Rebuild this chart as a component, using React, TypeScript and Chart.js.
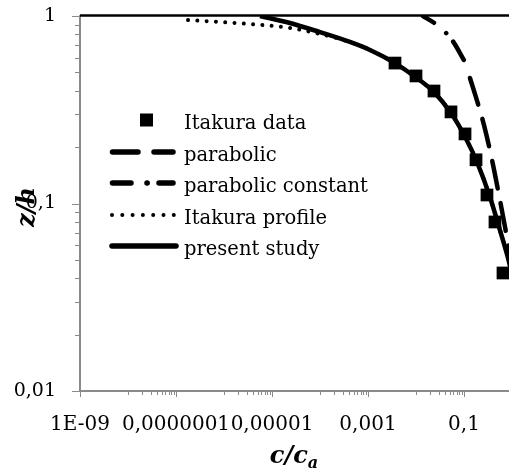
import React, { useEffect, useRef } from "react";
import { Chart, registerables } from "chart.js";

Chart.register(...registerables);

// ---------- data ----------
const itakuraDataX = [0.00365, 0.01, 0.0237, 0.0536, 0.105, 0.178, 0.301, 0.442, 0.649];
const itakuraDataY = [0.561, 0.479, 0.398, 0.308, 0.235, 0.171, 0.111, 0.0797, 0.0426];

const parabolicX = [0.133, 0.169, 0.261, 0.383, 0.562, 0.715, 0.909, 1.0];
const parabolicY = [0.467, 0.384, 0.262, 0.171, 0.104, 0.075, 0.053, 0.044];

const parabolicConstX = [0.014, 0.0274, 0.0562, 0.105];
const parabolicConstY = [1.0, 0.895, 0.745, 0.568];

const itakuraProfileX = [1.78e-7, 8.25e-7, 3.48e-6, 2.37e-5, 1e-4, 4.2e-4, 0.0011, 0.00365, 0.01, 0.0237, 0.0536, 0.105, 0.187, 0.348, 0.562, 0.826, 1.0];
const itakuraProfileY = [0.952, 0.929, 0.906, 0.863, 0.802, 0.727, 0.659, 0.561, 0.47, 0.393, 0.304, 0.227, 0.166, 0.108, 0.072, 0.0512, 0.0416];

const presentStudyX = [5.62e-6, 2.37e-5, 1e-4, 4.2e-4, 0.0011, 0.00365, 0.01, 0.0237, 0.0536, 0.105, 0.187, 0.348, 0.562, 0.826, 1.0];
const presentStudyY = [1.0, 0.918, 0.82, 0.727, 0.659, 0.561, 0.47, 0.393, 0.304, 0.227, 0.166, 0.108, 0.072, 0.0512, 0.0416];

const seriesNames = ["Itakura data", "parabolic", "parabolic constant", "Itakura profile", "present study"];

const xTickValues = [1e-9, 1e-7, 1e-5, 1e-3, 1e-1, 10];
const xTickLabels = ["1E-09", "0,0000001", "0,00001", "0,001", "0,1", "10"];
const xMinorMultipliers = [1, 2, 3, 4, 5, 6, 7, 8, 9];
const xMinorExponents = [-8, -6, -4, -2, 0];

const yTickValues = [0.01, 0.1, 1];
const yTickLabels = ["0,01", "0,1", "1"];
const yMinorMultipliers = [2, 3, 4, 5, 6, 7, 8, 9];
const yMinorExponents = [-2, -1];

const xTitle = "c/c";
const xTitleSub = "a";
const yTitle = "z/h";

// ---------- helpers ----------
const pts = (xs: number[], ys: number[]) => xs.map((x, i) => ({ x, y: ys[i] }));

const FONT = "'DejaVu Serif'";
const AXIS_GRAY = "#8a8a8a";

const decorPlugin = {
  id: "decor",
  beforeDatasetsDraw(chart: any) {
    const ctx = chart.ctx;
    const { left, right, top, bottom } = chart.chartArea;
    const xs = chart.scales.x;
    const ys = chart.scales.y;
    ctx.save();
    ctx.strokeStyle = AXIS_GRAY;
    ctx.lineWidth = 1;
    xTickValues.forEach((v) => {
      const px = Math.round(xs.getPixelForValue(v)) + 0.5;
      ctx.beginPath();
      ctx.moveTo(px, bottom);
      ctx.lineTo(px, bottom + 6);
      ctx.stroke();
    });
    xMinorExponents.forEach((e) => {
      xMinorMultipliers.forEach((m) => {
        const px = Math.round(xs.getPixelForValue(m * Math.pow(10, e))) + 0.5;
        ctx.beginPath();
        ctx.moveTo(px, bottom);
        ctx.lineTo(px, bottom + 4);
        ctx.stroke();
      });
    });
    yTickValues.forEach((v) => {
      const py = Math.round(ys.getPixelForValue(v)) + 0.5;
      ctx.beginPath();
      ctx.moveTo(left - 8, py);
      ctx.lineTo(left, py);
      ctx.stroke();
    });
    yMinorExponents.forEach((e) => {
      yMinorMultipliers.forEach((m) => {
        const py = Math.round(ys.getPixelForValue(m * Math.pow(10, e))) + 0.5;
        ctx.beginPath();
        ctx.moveTo(left - 5, py);
        ctx.lineTo(left, py);
        ctx.stroke();
      });
    });
    ctx.strokeStyle = "#000";
    ctx.lineWidth = 2.5;
    ctx.beginPath();
    ctx.moveTo(left, top - 0.5);
    ctx.lineTo(right, top - 0.5);
    ctx.stroke();
    ctx.restore();
  },
  afterDraw(chart: any) {
    const ctx = chart.ctx;
    ctx.save();
    ctx.fillStyle = "#000";
    ctx.strokeStyle = "#000";
    ctx.save();
    ctx.translate(28, 207);
    ctx.rotate(-Math.PI / 2);
    ctx.font = `bold italic 24px ${FONT}`;
    ctx.textAlign = "center";
    ctx.textBaseline = "middle";
    ctx.fillText(yTitle, 0, 0);
    ctx.restore();
    ctx.font = `bold italic 24px ${FONT}`;
    const wMain = ctx.measureText(xTitle).width;
    ctx.font = `bold italic 16px ${FONT}`;
    const wSub = ctx.measureText(xTitleSub).width;
    const startX = 294 - (wMain + wSub) / 2;
    ctx.textAlign = "left";
    ctx.textBaseline = "alphabetic";
    ctx.font = `bold italic 24px ${FONT}`;
    ctx.fillText(xTitle, startX, 463);
    ctx.font = `bold italic 16px ${FONT}`;
    ctx.fillText(xTitleSub, startX + wMain, 468);

    const rows = [120, 152, 183, 215, 246];
    const x0 = 110;
    const x1 = 176;
    const tx = 184;
    ctx.lineWidth = 5.5;
    ctx.lineCap = "round";
    ctx.fillRect(140, rows[0] - 6.5, 13, 13);
    const seg = (a: number, b: number, y: number) => {
      ctx.beginPath();
      ctx.moveTo(a, y);
      ctx.lineTo(b, y);
      ctx.stroke();
    };
    seg(x0 + 2.5, 138, rows[1]);
    seg(154, x1 - 3, rows[1]);
    seg(x0 + 2.5, 131, rows[2]);
    seg(147, 147.2, rows[2]);
    seg(159, x1 - 3, rows[2]);
    for (let i = 0; i < 7; i++) {
      ctx.beginPath();
      ctx.arc(x0 + 2 + i * 10.3, rows[3], 2, 0, Math.PI * 2);
      ctx.fill();
    }
    seg(x0 + 2, x1, rows[4]);

    ctx.font = `19.5px ${FONT}`;
    ctx.textAlign = "left";
    ctx.textBaseline = "alphabetic";
    seriesNames.forEach((n, i) => {
      ctx.fillText(n, tx, rows[i] + 9);
    });
    ctx.restore();
  },
};

export default function App() {
  const ref = useRef<HTMLCanvasElement | null>(null);
  useEffect(() => {
    if (!ref.current) return;
    const chart = new Chart(ref.current, {
      type: "scatter",
      data: {
        datasets: [
          {
            label: seriesNames[2],
            data: pts(parabolicConstX, parabolicConstY),
            showLine: true,
            borderColor: "#000",
            borderWidth: 4.5,
            borderDash: [13, 16, 0.01, 11, 21, 40],
            borderCapStyle: "round",
            pointRadius: 0,
            cubicInterpolationMode: "monotone",
          },
          {
            label: seriesNames[1],
            data: pts(parabolicX, parabolicY),
            showLine: true,
            borderColor: "#000",
            borderWidth: 4.5,
            borderDash: [28, 15],
            borderCapStyle: "round",
            pointRadius: 0,
            cubicInterpolationMode: "monotone",
          },
          {
            label: seriesNames[3],
            data: pts(itakuraProfileX, itakuraProfileY),
            showLine: true,
            borderColor: "#000",
            borderWidth: 4,
            borderDash: [0.01, 9.3],
            borderCapStyle: "round",
            pointRadius: 0,
            cubicInterpolationMode: "monotone",
          },
          {
            label: seriesNames[4],
            data: pts(presentStudyX, presentStudyY),
            showLine: true,
            borderColor: "#000",
            borderWidth: 4.5,
            pointRadius: 0,
            cubicInterpolationMode: "monotone",
          },
          {
            label: seriesNames[0],
            data: pts(itakuraDataX, itakuraDataY),
            showLine: false,
            pointStyle: "rect",
            pointRadius: 9,
            backgroundColor: "#000",
            borderColor: "#000",
            borderWidth: 0,
          },
        ],
      },
      options: {
        responsive: false,
        animation: false,
        devicePixelRatio: 1,
        events: [],
        layout: { padding: { left: 0, top: 16, right: 40, bottom: 0 } },
        plugins: { legend: { display: false }, tooltip: { enabled: false } },
        scales: {
          x: {
            type: "logarithmic",
            min: 1e-9,
            max: 10,
            position: "bottom",
            afterBuildTicks: (s: any) => {
              s.ticks = xTickValues.map((v) => ({ value: v }));
            },
            afterFit: (s: any) => {
              s.height = 79;
              s.paddingLeft = 0;
              s.paddingRight = 0;
              s.paddingTop = 0;
              s.paddingBottom = 0;
            },
            grid: { display: false, drawTicks: false },
            border: { display: true, color: AXIS_GRAY, width: 2 },
            ticks: {
              autoSkip: false,
              maxRotation: 0,
              minRotation: 0,
              padding: 22,
              color: "#000",
              font: { family: FONT, size: 20 },
              callback: (_v: any, i: number) => xTickLabels[i],
            },
          },
          y: {
            type: "logarithmic",
            min: 0.01,
            max: 1,
            position: "left",
            afterBuildTicks: (s: any) => {
              s.ticks = yTickValues.map((v) => ({ value: v }));
            },
            afterFit: (s: any) => {
              s.width = 80;
              s.paddingLeft = 0;
              s.paddingRight = 0;
              s.paddingTop = 0;
              s.paddingBottom = 0;
            },
            grid: { display: false, drawTicks: false },
            border: { display: true, color: AXIS_GRAY, width: 2 },
            ticks: {
              autoSkip: false,
              padding: 24,
              color: "#000",
              font: { family: FONT, size: 19 },
              callback: (_v: any, i: number) => yTickLabels[i],
            },
          },
        },
      },
      plugins: [decorPlugin],
    } as any);
    return () => chart.destroy();
  }, []);
  return (
    <div
      style={{
        position: "absolute",
        left: 0,
        top: 0,
        width: 509,
        height: 470,
        overflow: "hidden",
        background: "#fff",
      }}
    >
      <canvas ref={ref} width={600} height={470} style={{ display: "block" }} />
    </div>
  );
}
